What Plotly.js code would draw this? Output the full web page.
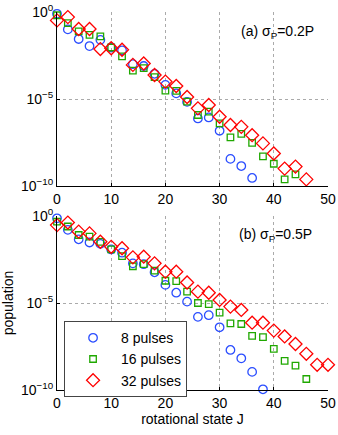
<!DOCTYPE html>
<html>
<head>
<meta charset="utf-8">
<script src="https://cdn.plot.ly/plotly-3.0.1.min.js"></script>
<style>
  body { margin: 0; background: #fff; }
  #chart { width: 338px; height: 435px; }
</style>
</head>
<body>
<div id="chart"></div>
<script>
// rotational state J for each series
var j_blue_a = [0,2,4,6,8,10,12,14,16,18,20,22,24,26,28,30,32,34,36];
var j_green_a = [0,2,4,6,8,10,12,14,16,18,20,22,24,26,28,30,32,34,36,38,40,42,44];
var j_red_a = [0,2,4,6,8,10,12,14,16,18,20,22,24,26,28,30,32,34,36,38,40,42,44,46];
var j_blue_b = [0,2,4,6,8,10,12,14,16,18,20,22,24,26,28,30,32,34,36,38];
var j_green_b = [0,2,4,6,8,10,12,14,16,18,20,22,24,26,28,30,32,34,36,38,40,42,44,46];
var j_red_b = [0,2,4,6,8,10,12,14,16,18,20,22,24,26,28,30,32,34,36,38,40,42,44,46,48,50];

// (a) sigma_P = 0.2P
var pop_8_a = [0.79,1.0e-1,2.8e-2,1.1e-2,2.5e-2,9.1e-3,6.3e-3,1.0e-3,7.9e-4,2.8e-4,6.5e-5,2.1e-5,6.8e-6,7.6e-7,8.7e-7,1.5e-7,3.6e-9,1.4e-9,2.9e-10];
var pop_16_a = [0.65,0.23,7.6e-2,4.9e-2,4.0e-2,9.1e-3,2.8e-3,4.3e-4,5.9e-4,1.8e-4,3.0e-5,2.9e-5,7.1e-6,1.2e-6,1.9e-6,4.0e-7,6.2e-8,1.0e-7,3.0e-8,5.1e-9,1.9e-9,2.4e-10,4.7e-10];
var pop_32_a = [0.33,0.51,0.105,0.105,7.4e-3,8.3e-3,6.8e-3,9.1e-4,1.1e-3,2.4e-4,1.0e-4,5.6e-5,1.3e-5,2.9e-6,4.5e-6,9.5e-7,3.2e-7,2.5e-7,8.3e-8,2.8e-8,7.4e-9,1.0e-9,1.3e-9,2.4e-10];

// (b) sigma_P = 0.5P
var pop_8_b = [0.74,0.16,4.6e-2,3.0e-2,2.5e-2,1.2e-2,7.8e-3,1.9e-3,1.7e-3,5.8e-4,1.1e-4,3.9e-5,1.2e-5,1.6e-6,2.0e-6,4.0e-7,2.0e-8,6.6e-9,1.1e-9,1.1e-10];
var pop_16_b = [0.47,0.25,8.1e-2,6.5e-2,3.3e-2,1.2e-2,5.0e-3,1.3e-3,1.7e-3,7.2e-4,1.9e-4,1.8e-4,4.5e-5,1.0e-5,8.7e-6,2.8e-6,6.8e-7,6.2e-7,1.3e-7,1.1e-7,2.3e-8,4.7e-9,2.5e-9,4.3e-10];
var pop_32_b = [0.30,0.42,0.126,0.1,3.3e-2,1.7e-2,1.4e-2,4.2e-3,4.6e-3,1.9e-3,6.3e-4,6.3e-4,1.5e-4,4.5e-5,3.9e-5,1.5e-5,6.2e-6,4.0e-6,7.4e-7,7.4e-7,2.6e-7,1.2e-7,4.4e-8,1.2e-8,2.8e-9,2.8e-9];

var series_names = ["8 pulses", "16 pulses", "32 pulses"];
var y_tickvals = [1, 1e-5, 1e-10];
var y_ticktext = ["10<sup>0</sup>", "10<sup>\u22125</sup>", "10<sup>\u221210</sup>"];

var blue = "#2a4dff";
var green = "#1fa800";
var red = "#ff0000";

// open markers take their stroke from marker.color
function trace(x, y, name, symbol, color, size, xa, ya, legend) {
    return {
        x: x, y: y, name: name,
        xaxis: xa, yaxis: ya,
        mode: "markers", type: "scatter",
        cliponaxis: false,
        showlegend: legend,
        marker: {symbol: symbol, size: size, color: color,
                 line: {color: color, width: 1.3}}
    };
}

var data = [
    trace(j_blue_a, pop_8_a, series_names[0], "circle-open", blue, 8.5, "x", "y", false),
    trace(j_green_a, pop_16_a, series_names[1], "square-open", green, 6.5, "x", "y", false),
    trace(j_red_a, pop_32_a, series_names[2], "diamond-open", red, 10, "x", "y", false),
    trace(j_blue_b, pop_8_b, series_names[0], "circle-open", blue, 8.5, "x2", "y2", true),
    trace(j_green_b, pop_16_b, series_names[1], "square-open", green, 6.5, "x2", "y2", true),
    trace(j_red_b, pop_32_b, series_names[2], "diamond-open", red, 10, "x2", "y2", true)
];

var xbase = {
    range: [0, 50], tickvals: [0,10,20,30,40,50],
    showline: true, linecolor: "#000", linewidth: 1,
    ticks: "inside", ticklen: 3, tickcolor: "#000",
    showgrid: true, gridcolor: "#aaa", griddash: "dot", gridwidth: 1,
    zeroline: false, tickfont: {size: 14, color: "#000"}
};
var ybase = {
    type: "log", range: [-10, 0],
    tickmode: "array", tickvals: y_tickvals, ticktext: y_ticktext,
    showline: true, linecolor: "#000", linewidth: 1,
    ticks: "inside", ticklen: 3, tickcolor: "#000",
    showgrid: true, gridcolor: "#aaa", griddash: "dot", gridwidth: 1,
    zeroline: false, tickfont: {size: 14, color: "#000"}
};

var layout = {
    width: 338, height: 435,
    margin: {l: 57, r: 10, t: 12, b: 45},
    paper_bgcolor: "#fff", plot_bgcolor: "#fff",
    font: {family: "Liberation Sans, Arial, sans-serif", size: 14, color: "#000"},
    xaxis: Object.assign({}, xbase, {domain: [0, 1], anchor: "y"}),
    yaxis: Object.assign({}, ybase, {domain: [0.5397, 1], anchor: "x"}),
    xaxis2: Object.assign({}, xbase, {domain: [0, 1], anchor: "y2",
        title: {text: "rotational state J", standoff: 2, font: {size: 14}}}),
    yaxis2: Object.assign({}, ybase, {domain: [0, 0.4603], anchor: "x2",
        title: {text: "population", standoff: 4, font: {size: 14}}}),
    showlegend: true,
    legend: {
        x: 0.026, y: 0.182, xanchor: "left", yanchor: "top",
        bgcolor: "#fff", bordercolor: "#444", borderwidth: 1,
        font: {size: 14}, itemwidth: 46, tracegroupgap: 0
    },
    annotations: [
        {text: "(a) \u03c3<sub>P</sub>=0.2P", xref: "x domain", yref: "y domain",
         x: 0.955, y: 0.885, xanchor: "right", yanchor: "middle", showarrow: false,
         font: {size: 14}},
        {text: "(b) \u03c3<sub>P</sub>=0.5P", xref: "x2 domain", yref: "y2 domain",
         x: 0.948, y: 0.89, xanchor: "right", yanchor: "middle", showarrow: false,
         font: {size: 14}}
    ]
};

Plotly.newPlot("chart", data, layout, {displayModeBar: false, staticPlot: true});
</script>
</body>
</html>
